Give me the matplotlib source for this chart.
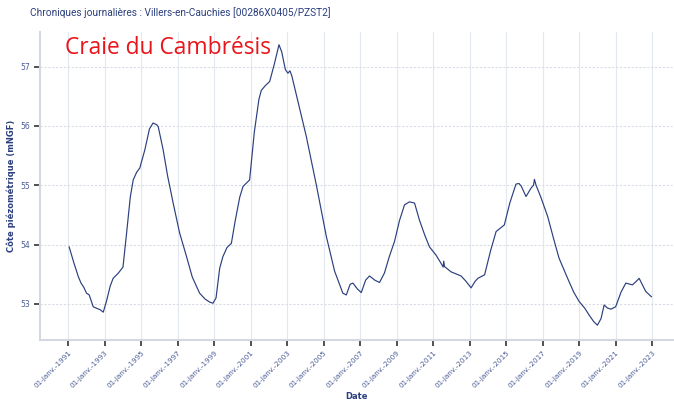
import matplotlib.pyplot as plt
import matplotlib.ticker as mticker

# Côte piézométrique journalière (année décimale, mNGF)
annees = [1991.05, 1991.3, 1991.55, 1991.7, 1991.85, 1992.0, 1992.15, 1992.37, 1992.6, 1992.75,
          1992.92, 1993.1, 1993.3, 1993.46, 1993.75, 1994.0, 1994.2, 1994.4, 1994.56, 1994.75,
          1994.92, 1995.2, 1995.45, 1995.65, 1995.85, 1995.93, 1996.2, 1996.45, 1996.75, 1997.1,
          1997.48, 1997.8, 1998.2, 1998.5, 1998.75, 1998.93, 1999.1, 1999.3, 1999.48, 1999.7,
          1999.94, 2000.15, 2000.4, 2000.58, 2000.94, 2001.2, 2001.45, 2001.58, 2001.8, 2002.04,
          2002.3, 2002.55, 2002.7, 2002.9, 2003.04, 2003.15, 2003.25, 2003.6, 2004.05, 2004.6,
          2005.15, 2005.6, 2006.05, 2006.24, 2006.45, 2006.6, 2006.85, 2007.06, 2007.3, 2007.51,
          2007.8, 2008.06, 2008.33, 2008.6, 2008.88, 2009.15, 2009.43, 2009.7, 2009.98, 2010.25,
          2010.55, 2010.8, 2011.16, 2011.4, 2011.55, 2011.58, 2011.62, 2011.98, 2012.53, 2012.8,
          2013.08, 2013.3, 2013.45, 2013.82, 2014.15, 2014.45, 2014.9, 2015.2, 2015.54, 2015.7,
          2015.82, 2016.09, 2016.36, 2016.5, 2016.55, 2016.64, 2016.9, 2017.28, 2017.6, 2017.9,
          2018.37, 2018.7, 2019.0, 2019.3, 2019.55, 2019.8, 2020.0, 2020.2, 2020.37, 2020.55,
          2020.74, 2021.0, 2021.3, 2021.56, 2021.92, 2022.1, 2022.29, 2022.5, 2022.65, 2022.96]
niveaux = [53.96, 53.7, 53.46, 53.35, 53.28, 53.18, 53.15, 52.95, 52.92, 52.9,
           52.86, 53.05, 53.3, 53.43, 53.52, 53.62, 54.2, 54.8, 55.09, 55.22,
           55.29, 55.6, 55.95, 56.05, 56.02, 55.99, 55.6, 55.15, 54.7, 54.2,
           53.8, 53.45, 53.18, 53.08, 53.03, 53.01, 53.1, 53.6, 53.8, 53.95,
           54.02, 54.4, 54.8, 54.98, 55.09, 55.9, 56.45, 56.6, 56.68, 56.75,
           57.05, 57.37, 57.25, 56.95, 56.89, 56.93, 56.85, 56.4, 55.82, 55.0,
           54.13, 53.55, 53.18, 53.15, 53.33, 53.35, 53.25, 53.19, 53.4, 53.47,
           53.4, 53.36, 53.52, 53.8, 54.05, 54.4, 54.67, 54.72, 54.7, 54.41,
           54.15, 53.96, 53.82, 53.7, 53.62, 53.72, 53.63, 53.54, 53.47, 53.38,
           53.27, 53.38, 53.43, 53.49, 53.9, 54.22, 54.33, 54.7, 55.02, 55.03,
           54.99, 54.81, 54.95, 55.0, 55.1, 55.0, 54.8, 54.47, 54.1, 53.77,
           53.43, 53.2, 53.04, 52.93, 52.81, 52.7, 52.64, 52.75, 52.98, 52.93,
           52.91, 52.95, 53.2, 53.35, 53.32, 53.37, 53.43, 53.3, 53.21, 53.12]

annees_ticks = list(range(1991, 2024, 2))
niveaux_ticks = [53, 54, 55, 56, 57]

bleu = "#2b3f7e"
gris = "#d3d8e3"

fig = plt.figure(figsize=(6.74, 4.04), dpi=100)
ax = fig.add_axes([0.0593, 0.1584, 0.9407, 0.7624])

ax.plot(annees, niveaux, color=bleu, lw=0.85)

ax.set_xlim(1989.45, 2024.2)
ax.set_ylim(52.39, 57.585)
ax.set_xticks(annees_ticks)
ax.xaxis.set_major_formatter(mticker.FuncFormatter(lambda v, p: "01-janv.-%d" % round(v)))
ax.set_yticks(niveaux_ticks)

for lab in ax.get_xticklabels():
    lab.set_rotation(45)
    lab.set_ha("right")
    lab.set_rotation_mode("anchor")
ax.tick_params(axis="x", labelsize=5.2, labelcolor="#4a5c96", length=4, width=1.2,
               color="#333333", pad=3)
ax.tick_params(axis="y", labelsize=5.5, labelcolor="#4a5c96", length=4, width=1.2,
               color="#333333", pad=3)

ax.grid(axis="x", color="#e3e7ef", lw=0.8, ls="-")
ax.grid(axis="y", color="#d8dce6", lw=0.8, ls=(0, (2, 1.5)))
ax.set_axisbelow(True)

for s in ["top", "right"]:
    ax.spines[s].set_visible(False)
for s in ["left", "bottom"]:
    ax.spines[s].set_color(gris)
    ax.spines[s].set_linewidth(1.5)

ax.set_ylabel("Côte piézométrique (mNGF)", fontsize=6, fontweight="bold", color=bleu, labelpad=3)
ax.set_xlabel("Date", fontsize=6, fontweight="bold", color=bleu, va="center")
ax.xaxis.set_label_coords(0.5, -0.185)

fig.text(0.045, 0.97, "Chroniques journalières : Villers-en-Cauchies [00286X0405/PZST2]",
         fontsize=7.3, color=bleu, va="center", ha="left",
         family=["Roboto", "DejaVu Sans"])
fig.text(0.096, 0.88, "Craie du Cambrésis", fontsize=16.4, color="#e8151b",
         va="center", ha="left", family=["Open Sans", "DejaVu Sans"])

fig.savefig("out.png", dpi=100)
